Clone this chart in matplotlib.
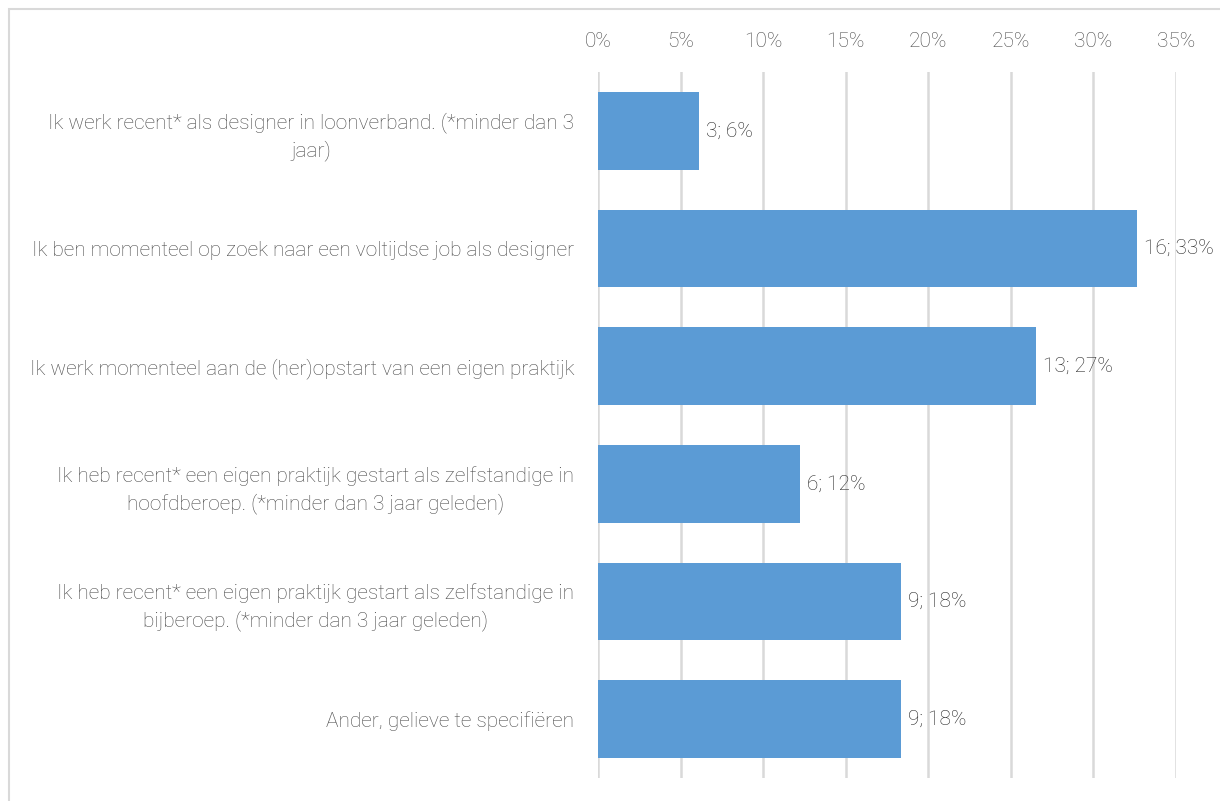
import matplotlib
matplotlib.use("Agg")
import matplotlib.pyplot as plt
from matplotlib.patches import Rectangle
from matplotlib.ticker import FuncFormatter

plt.rcParams["font.family"] = ["Roboto", "DejaVu Sans"]
plt.rcParams["font.weight"] = "light"

categories = [
    "Ik werk recent* als designer in loonverband. (*minder dan 3\njaar)",
    "Ik ben momenteel op zoek naar een voltijdse job als designer",
    "Ik werk momenteel aan de (her)opstart van een eigen praktijk",
    "Ik heb recent* een eigen praktijk gestart als zelfstandige in\nhoofdberoep. (*minder dan 3 jaar geleden)",
    "Ik heb recent* een eigen praktijk gestart als zelfstandige in\nbijberoep. (*minder dan 3 jaar geleden)",
    "Ander, gelieve te specifiëren",
]
counts = [3, 16, 13, 6, 9, 9]
shares = [6.12, 32.65, 26.53, 12.24, 18.37, 18.37]  # percent
x_ticks = [0, 5, 10, 15, 20, 25, 30, 35]

BAR = "#5B9BD5"
GRID = "#D9D9D9"
TXT = "#4a4a4a"
FS = 15

W, H = 1220, 801
fig = plt.figure(figsize=(W / 100, H / 100), dpi=100)

# plot area in pixels: x 598..1176, y 72..778
ax = fig.add_axes([598 / W, 1 - 778 / H, (1176 - 598) / W, (778 - 72) / H])

y = list(range(len(categories)))
ax.barh(y, shares, height=0.66, color=BAR, zorder=3)
ax.set_ylim(len(categories) - 0.5, -0.5)
ax.set_xlim(0, 35)

ax.set_xticks(x_ticks)
ax.xaxis.set_major_formatter(FuncFormatter(lambda v, _: f"{v:.0f}%"))
ax.xaxis.tick_top()
ax.tick_params(axis="x", length=0, pad=15, labelsize=FS, labelcolor=TXT)
ax.tick_params(axis="y", length=0, pad=17, labelsize=FS, labelcolor=TXT)
ax.set_yticks(y)
ax.set_yticklabels(categories, linespacing=1.45)
for lbl in ax.get_yticklabels():
    lbl.set_multialignment("center")

ax.grid(axis="x", color=GRID, linewidth=1.8, zorder=0)
for s in ax.spines.values():
    s.set_visible(False)

for yi, c, s in zip(y, counts, shares):
    ax.annotate(f"{c}; {s:.0f}%", xy=(s, yi), xytext=(5, 0),
                textcoords="offset points", va="center", ha="left",
                fontsize=FS, color="#262626", zorder=4)

# outer chart border (only top and left edges fall inside the image)
fig.patches.append(Rectangle((9 / W, -0.1), 1.2, 1 - 9 / H + 0.1,
                             transform=fig.transFigure, fill=False,
                             edgecolor=GRID, linewidth=1.5))

fig.savefig("out.png", dpi=100)
